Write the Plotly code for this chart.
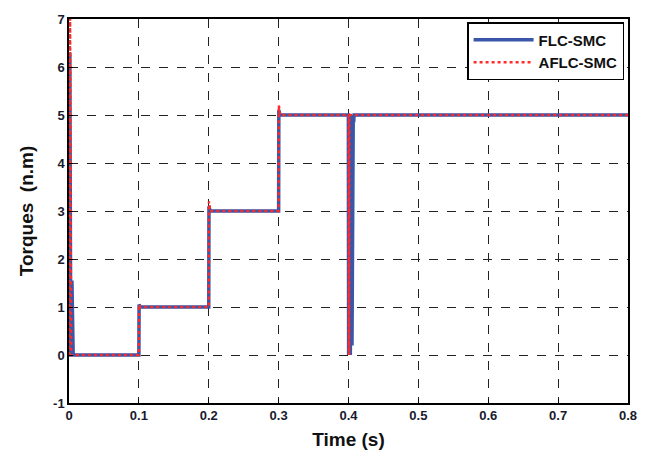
import plotly.graph_objects as go

# FLC-SMC (blue, solid)
t_flc = [0.0, 0.0008, 0.0012, 0.0025, 0.0035, 0.0042, 0.0048, 0.006, 0.1, 0.1003, 0.102, 0.2, 0.2003, 0.202, 0.3, 0.3003, 0.302,
         0.3998, 0.4002, 0.4008, 0.4014, 0.402, 0.4026, 0.4032, 0.4038, 0.4044, 0.405, 0.4056, 0.4062, 0.4068, 0.4074, 0.408, 0.8]
y_flc = [0.0, 6.3, 6.3, 0.0, 0.0, 1.55, 0.0, 0.0, 0.0, 1.05, 1.0, 1.0, 3.1, 3.0, 3.0, 5.1, 5.0,
         5.0, 0.0, 5.0, 0.0, 5.0, 0.0, 5.0, 0.0, 5.0, 0.2, 5.0, 1.9, 5.0, 4.85, 5.0, 5.0]

# AFLC-SMC (red, dotted)
t_aflc = [0.0, 0.0005, 0.0015, 0.003, 0.1, 0.1003, 0.102, 0.2, 0.2003, 0.202, 0.3, 0.3003, 0.302, 0.4002, 0.4007, 0.4012, 0.8]
y_aflc = [0.0, 7.2, 7.2, 0.0, 0.0, 1.05, 1.0, 1.0, 3.2, 3.0, 3.0, 5.2, 5.0, 5.0, 0.0, 5.0, 5.0]

x_ticks = [0, 0.1, 0.2, 0.3, 0.4, 0.5, 0.6, 0.7, 0.8]
x_labels = ["0", "0.1", "0.2", "0.3", "0.4", "0.5", "0.6", "0.7", "0.8"]
y_ticks = [-1, 0, 1, 2, 3, 4, 5, 6, 7]
y_labels = ["-1", "0", "1", "2", "3", "4", "5", "6", "7"]

fig = go.Figure()
fig.add_trace(go.Scatter(x=t_flc, y=y_flc, mode="lines", name="FLC-SMC",
                         line=dict(color="#3a56a8", width=3.5)))
fig.add_trace(go.Scatter(x=t_aflc, y=y_aflc, mode="lines", name="AFLC-SMC",
                         line=dict(color="#ff2a2a", width=2.5, dash="dot")))

axis_common = dict(showline=True, linecolor="black", linewidth=1.5, mirror=True,
                   showgrid=True, gridcolor="#222222", griddash="dash", gridwidth=1,
                   ticks="inside", ticklen=4, tickcolor="black", zeroline=False,
                   tickfont=dict(family="Liberation Sans", size=13, color="#1a1a2e", weight="bold"))

fig.update_xaxes(range=[0, 0.8], tickvals=x_ticks, ticktext=x_labels,
                 title=dict(text="Time (s)", font=dict(family="Liberation Sans", size=19, color="#111", weight="bold"), standoff=10),
                 **axis_common)
fig.update_yaxes(range=[-1, 7], tickvals=y_ticks, ticktext=y_labels,
                 title=dict(text="Torques  (n.m)", font=dict(family="Liberation Sans", size=19, color="#111", weight="bold"), standoff=14),
                 **axis_common)

fig.update_layout(
    width=649, height=462,
    margin=dict(l=69, r=21, t=12, b=59),
    plot_bgcolor="white", paper_bgcolor="white",
    showlegend=True,
    legend=dict(x=0.993, y=0.992, xanchor="right", yanchor="top",
                bgcolor="white", bordercolor="black", borderwidth=1.5,
                font=dict(family="Liberation Sans", size=15, color="#111", weight="bold"),
                itemwidth=60, tracegroupgap=4),
)

fig.write_html("out.html")
